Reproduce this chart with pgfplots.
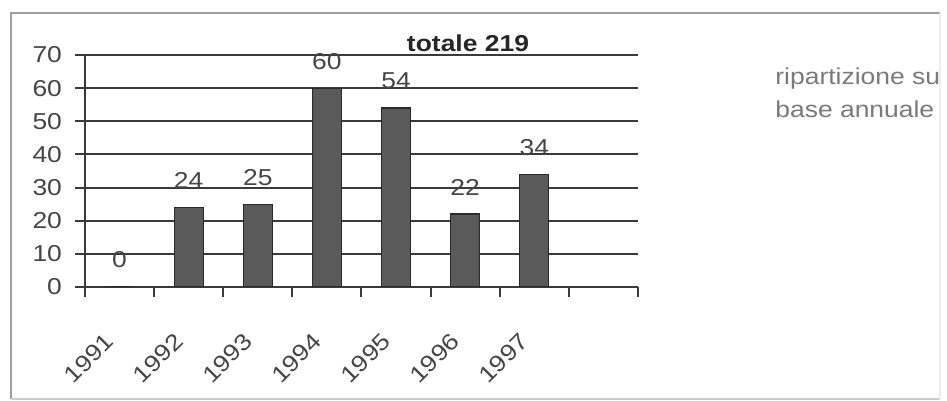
\documentclass[border=0pt]{standalone}
\usepackage{pgfplots}
\pgfplotsset{compat=1.18}
\usepackage{fontspec}
\setmainfont{Liberation Sans}[FakeStretch=1.15]
\definecolor{barfill}{HTML}{5A5A5A}
\definecolor{barline}{HTML}{2A2A2A}
\definecolor{gridc}{HTML}{3A3A3A}
\definecolor{labc}{HTML}{454545}
\definecolor{notec}{HTML}{7A7A7A}

\begin{document}
\begin{tikzpicture}
  \path[use as bounding box] (0,0) rectangle (473.5pt,200.5pt);
  % frame
  \draw[color=gray!75, line width=1pt] (5.5pt,1pt) -- (5.5pt,194pt) -- (470pt,194pt);
  \draw[color=gray!40, line width=0.8pt] (5.5pt,1pt) -- (470pt,1pt);
  \draw[color=gray!15, line width=0.6pt] (470pt,1pt) -- (470pt,194pt);

  \begin{axis}[at={(42.5pt,57pt)}, anchor=south west,
               scale only axis, width=276.5pt, height=116pt,
               xmin=0.5, xmax=8.5, ymin=0, ymax=70,
               ytick={0,10,...,70},
               xtick={0.5,1.5,...,8.5},
               xticklabels={1991,1992,1993,1994,1995,1996,1997,{},{}},
               axis x line*=bottom, axis y line*=left,
               axis line style={gridc, line width=1pt},
               tick align=outside, major tick length=5pt,
               tick style={gridc, line width=1pt},
               ymajorgrids, major grid style={gridc, line width=1pt},
               /pgf/number format/assume math mode=true,
               tick label style={font=\fontsize{11.5}{13}\selectfont, text=labc},
               yticklabel style={xshift=-3pt},
               xticklabel style={xshift=2pt, yshift=-30.5pt, rotate=45, anchor=center, inner sep=0pt},
               ]
    \addplot[ybar, bar width=0.42, fill=barfill, draw=barline, line width=0.6pt,
             nodes near coords,
             every node near coord/.append style={anchor=center, yshift=13.5pt,
               font=\fontsize{11.5}{13}\selectfont, text=labc}]
      coordinates {(1,0) (2,24) (3,25) (4,60) (5,54) (6,22) (7,34)};
  \end{axis}

  \node[font=\fontsize{11.5}{13}\selectfont\bfseries, text=black!85] at (234pt,179pt) {totale 219};
  \node[anchor=base west, inner sep=0pt, font=\fontsize{11.5}{13}\selectfont, text=notec] at (387.5pt,158pt) {ripartizione su};
  \node[anchor=base west, inner sep=0pt, font=\fontsize{11.5}{13}\selectfont, text=notec] at (387.5pt,141.5pt) {base annuale};
\end{tikzpicture}
\end{document}
